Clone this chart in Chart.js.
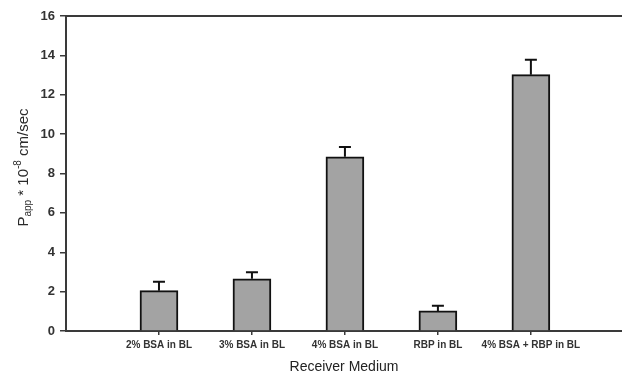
<!DOCTYPE html>
<html>
<head>
<meta charset="utf-8">
<script src="https://cdn.jsdelivr.net/npm/chart.js@4/dist/chart.umd.min.js"></script>
<style>
  html, body { margin: 0; padding: 0; background: #fff; }
  #wrap { width: 622px; height: 376px; position: relative; }
</style>
</head>
<body>
<div id="wrap"><canvas id="c" width="622" height="376"></canvas></div>
<script>
// ---- data ----
const categories = ['2% BSA in BL', '3% BSA in BL', '4% BSA in BL', 'RBP in BL', '4% BSA + RBP in BL'];
const papp = [2.05, 2.65, 8.85, 1.02, 13.02];
const errUp = [0.45, 0.33, 0.50, 0.26, 0.76];
const yTicks = [0, 2, 4, 6, 8, 10, 12, 14, 16];
const xTitle = 'Receiver Medium';

const FONT = '"Liberation Sans", Arial, sans-serif';
const AXIS = '#3a3a3a';

const points = categories.map((c, i) => ({ x: i + 1, y: papp[i] }));

const errorBars = {
  id: 'errorBars',
  afterDatasetsDraw(chart) {
    const ctx = chart.ctx;
    const meta = chart.getDatasetMeta(0);
    const ys = chart.scales.y;
    ctx.save();
    ctx.strokeStyle = '#111';
    ctx.lineWidth = 2;
    meta.data.forEach((el, i) => {
      const top = ys.getPixelForValue(papp[i] + errUp[i]);
      ctx.beginPath();
      ctx.moveTo(el.x, el.y);
      ctx.lineTo(el.x, top);
      ctx.moveTo(el.x - 6, top);
      ctx.lineTo(el.x + 6, top);
      ctx.stroke();
    });
    ctx.restore();
  }
};

const frame = {
  id: 'frame',
  afterDraw(chart) {
    const ctx = chart.ctx;
    const a = chart.chartArea;
    ctx.save();
    ctx.strokeStyle = AXIS;
    ctx.lineWidth = 2;
    ctx.beginPath();
    ctx.moveTo(a.left, a.top);
    ctx.lineTo(chart.width, a.top);
    ctx.stroke();
    // y axis title with subscript/superscript
    const parts = [
      { t: 'P', s: 15, dy: 0 },
      { t: 'app', s: 10, dy: 4 },
      { t: ' * 10', s: 15, dy: 0 },
      { t: '-8', s: 10, dy: -6 },
      { t: ' cm/sec', s: 15, dy: 0 }
    ];
    let total = 0;
    parts.forEach(p => { ctx.font = p.s + 'px ' + FONT; p.w = ctx.measureText(p.t).width; total += p.w; });
    ctx.translate(24, (a.top + a.bottom) / 2 - 6);
    ctx.rotate(-Math.PI / 2);
    ctx.fillStyle = '#2a2a2a';
    ctx.textBaseline = 'middle';
    let x = -total / 2;
    parts.forEach(p => {
      ctx.font = p.s + 'px ' + FONT;
      ctx.fillText(p.t, x, p.dy);
      x += p.w;
    });
    ctx.restore();
  }
};

new Chart(document.getElementById('c'), {
  type: 'bar',
  data: {
    datasets: [{
      data: points,
      backgroundColor: '#a3a3a3',
      borderColor: '#111',
      borderWidth: 2,
      borderSkipped: 'bottom',
      barThickness: 38
    }]
  },
  options: {
    responsive: false,
    animation: false,
    layout: { padding: { top: 16, right: 0, bottom: 0, left: 0 } },
    plugins: { legend: { display: false }, tooltip: { enabled: false } },
    scales: {
      x: {
        type: 'linear',
        offset: false,
        min: 0,
        max: 5.98,
        afterFit(s) { s.height = 45; },
        afterBuildTicks(s) { s.ticks = [1, 2, 3, 4, 5].map(v => ({ value: v })); },
        ticks: {
          includeBounds: false,
          autoSkip: false,
          maxRotation: 0,
          padding: 4,
          color: '#333',
          font: { family: FONT, size: 10, weight: 'bold' },
          callback: (v) => categories[v - 1] || ''
        },
        grid: { offset: false, drawOnChartArea: false, drawTicks: true, tickLength: 4, color: AXIS, lineWidth: 1.5 },
        border: { display: true, color: AXIS, width: 2 },
        title: {
          display: true,
          text: xTitle,
          color: '#222',
          font: { family: FONT, size: 14 },
          padding: { top: 5, bottom: 0 }
        }
      },
      y: {
        min: 0,
        max: 16,
        afterFit(s) { s.width = 66; },
        afterBuildTicks(s) { s.ticks = yTicks.map(v => ({ value: v })); },
        ticks: {
          padding: 5,
          color: '#333',
          font: { family: FONT, size: 13, weight: 'bold' }
        },
        grid: { drawOnChartArea: false, drawTicks: true, tickLength: 6, color: AXIS, lineWidth: 1.5 },
        border: { display: true, color: AXIS, width: 2 }
      }
    }
  },
  plugins: [errorBars, frame]
});
</script>
</body>
</html>
